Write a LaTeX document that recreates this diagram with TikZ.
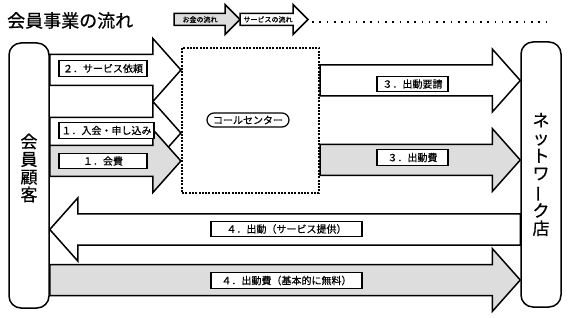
\documentclass[tikz,border=0pt]{standalone}
\usepackage{fontspec}
\setmainfont{Noto Sans CJK JP}[FakeBold=0.6]
\usepackage{graphicx}
\usetikzlibrary{calc}

\definecolor{moneygray}{RGB}{221,221,221}

% Größe der Blockpfeile: Schaft, Kopf, Kopflänge
\newcommand{\arrowsize}[3]{\def\shaftw{#1}\def\headw{#2}\def\headl{#3}}
\arrowsize{15.5pt}{31.5pt}{28pt}

% Blockpfeil von #2 nach #3 auf Höhe #4
\newcommand{\flowarrow}[4]{%
  \draw[#1] let \p1=(#2), \p2=(#3), \p3=(0,#4), \n1={sign(\x2-\x1)} in
    (\x1,{\y3+\shaftw}) -- ({\x2-(\n1)*\headl},{\y3+\shaftw})
    -- ({\x2-(\n1)*\headl},{\y3+\headw}) -- (\x2,\y3)
    -- ({\x2-(\n1)*\headl},{\y3-\headw}) -- ({\x2-(\n1)*\headl},{\y3-\shaftw})
    -- (\x1,{\y3-\shaftw}) -- cycle;}

\begin{document}
\begin{tikzpicture}[x=1pt, y=-1pt,
    party/.style={draw, line width=1.5pt, rounded corners=12pt, minimum width=40pt, minimum height=265pt, inner sep=0pt, align=center, font=\fontsize{17}{17.7}\selectfont},
    callbox/.style={draw, line width=2.2pt, dash pattern=on 2pt off 1.3pt, minimum width=137pt, minimum height=145pt, inner sep=0pt},
    desk/.style={draw, line width=1.2pt, rounded corners=7pt, minimum width=82pt, minimum height=14pt, inner sep=0pt, font=\fontsize{10}{10}\selectfont},
    tag/.style={draw, fill=white, line width=1.2pt, inner sep=1pt, minimum height=15.5pt, font=\fontsize{10}{10}\selectfont},
    flow/.style={draw, line width=1.5pt, fill=white, line join=miter},
    money/.style={flow, fill=moneygray},
    keytext/.style={inner sep=0pt, font=\fontsize{7}{7}\selectfont},
    dotrow/.style={line width=1.6pt, dash pattern=on 1.6pt off 5.7pt}
]
\useasboundingbox (0,0) rectangle (568,318);

% Titel und Legende
\node[anchor=west, inner sep=0pt, font=\fontsize{18}{18}\selectfont] (title) at (7,20.5) {会員事業の流れ};
\coordinate (lg0) at (174,19.5);
\coordinate (lg1) at (240,19.5);
\coordinate (lg2) at (308,19.5);
\coordinate (lgdot) at (312,22);
\coordinate (lgend) at (552,22);
\arrowsize{6pt}{15pt}{15pt}
\flowarrow{money}{lg0}{lg1}{19.5}
\flowarrow{flow}{lg1}{lg2}{19.5}
\arrowsize{15.5pt}{31.5pt}{28pt}
\node[keytext] (keymoney) at (200,19.5) {お金の流れ};
\node[keytext] (keyservice) at (268,19.5) {サービスの流れ};
\draw[dotrow] (lgdot) -- (lgend);

% Beteiligte
\node[party] (kyaku) at (29,175.5) {};
\node[party] (tenpo) at (541,174.5) {ネ\\ッ\\ト\\ワ\\\rotatebox[origin=c]{90}{ー}\\ク\\店};
\node[callbox] (call) at (250.5,120.5) {};
\node[desk] (center) at (248,120) {コールセンター};
\node[align=center, inner sep=0pt, font=\fontsize{17}{17.7}\selectfont] (kyakutext) at (29,168) {会\\員\\顧\\客};

% Blockpfeile
\flowarrow{flow}{kyaku.east}{call.west}{70}
\flowarrow{flow}{kyaku.east}{call.west}{133}
\flowarrow{money}{kyaku.east}{call.west}{161}
\flowarrow{flow}{call.east}{tenpo.west}{80.5}
\flowarrow{money}{call.east}{tenpo.west}{160}
\flowarrow{flow}{tenpo.west}{kyaku.east}{229.5}
\flowarrow{money}{kyaku.east}{tenpo.west}{280}

% Beschriftungen
\node[tag, minimum width=88pt] (req) at (103,68.5) {２．サービス依頼};
\node[tag, minimum width=95pt] (join) at (106.5,130.5) {１．入会・申し込み};
\node[tag, minimum width=88pt] (fee) at (103,161) {１．会費};
\node[tag, minimum width=71pt] (dispatch) at (412.5,84) {３．出動要請};
\node[tag, minimum width=71pt] (dispfee) at (412.5,157.5) {３．出動費};
\node[tag, minimum width=151pt] (service) at (286.5,229) {４．出動（サービス提供）};
\node[tag, minimum width=151pt] (charge) at (286.5,280.5) {４．出動費（基本的に無料）};

\end{tikzpicture}
\end{document}
